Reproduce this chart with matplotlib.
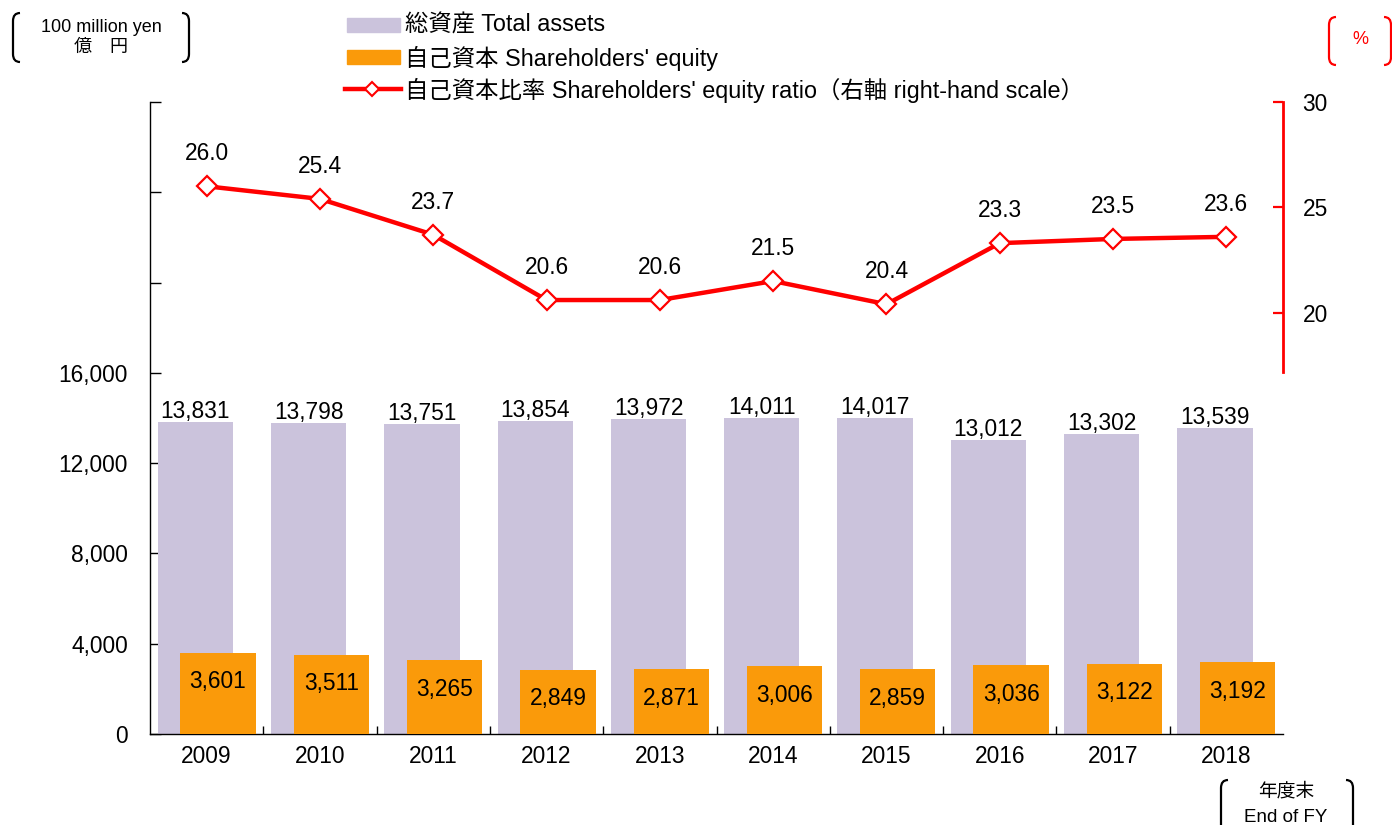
import matplotlib
matplotlib.use("Agg")
import matplotlib.pyplot as plt
from matplotlib.path import Path
from matplotlib.patches import PathPatch, Rectangle
from matplotlib.lines import Line2D
import numpy as np

plt.rcParams['font.family'] = ['Liberation Sans', 'Noto Sans CJK JP']

years = ['2009', '2010', '2011', '2012', '2013', '2014', '2015', '2016', '2017', '2018']
total_assets = [13831, 13798, 13751, 13854, 13972, 14011, 14017, 13012, 13302, 13539]
equity = [3601, 3511, 3265, 2849, 2871, 3006, 2859, 3036, 3122, 3192]
ratio = [26.0, 25.4, 23.7, 20.6, 20.6, 21.5, 20.4, 23.3, 23.5, 23.6]

left_ticks = [0, 4000, 8000, 12000, 16000, 20000, 24000, 28000]
left_labels = ['0', '4,000', '8,000', '12,000', '16,000', '', '', '']
right_ticks = [20, 25, 30]

C_TOTAL = '#CBC3DC'
C_EQ = '#FA9A0A'
C_LINE = '#FF0000'
FS = 16.4

W, H = 1392, 825
fig = plt.figure(figsize=(W / 100, H / 100), dpi=100)

def fx(px):
    return px / W

def fy(py):
    return 1 - py / H

ax = fig.add_axes([fx(150), fy(734), fx(1283) - fx(150), fy(102) - fy(734)])
x = np.arange(len(years))
bw = 0.665
ax.bar(x - 0.1, total_assets, width=bw, color=C_TOTAL, zorder=2)
ax.bar(x + 0.1, equity, width=bw, color=C_EQ, zorder=3)

for xi, v in zip(x, total_assets):
    ax.annotate(f'{v:,}', (xi - 0.1, v), xytext=(0, 7.5), textcoords='offset points',
                ha='center', va='center', fontsize=FS)
for xi, v in zip(x, equity):
    ax.annotate(f'{v:,}', (xi + 0.1, v), xytext=(0, -21), textcoords='offset points',
                ha='center', va='center', fontsize=FS, zorder=5)

ax.set_xlim(-0.5, len(years) - 0.5)
ax.set_ylim(0, 28000)
ax.set_yticks(left_ticks)
ax.set_yticklabels(left_labels)
ax.set_xticks(x)
ax.set_xticklabels(years)
ax.set_xticks(np.arange(0.5, len(years) - 1, 1), minor=True)
ax.tick_params(axis='x', which='major', length=0, labelsize=FS, pad=8)
ax.tick_params(axis='x', which='minor', length=6, direction='in', width=1)
ax.tick_params(axis='y', which='major', length=8, direction='in', width=1, labelsize=FS, pad=16)
for s in ['top', 'right']:
    ax.spines[s].set_visible(False)
for s in ['left', 'bottom']:
    ax.spines[s].set_linewidth(1.0)

ax2 = ax.twinx()
ax2.set_ylim(0, 30)
ax2.plot(x, ratio, color=C_LINE, lw=3.2, marker='D', markersize=10,
         markerfacecolor='white', markeredgecolor=C_LINE, markeredgewidth=1.6, zorder=4)
for xi, v in zip(x, ratio):
    ax2.annotate(f'{v:.1f}', (xi, v), xytext=(0, 23.5), textcoords='offset points',
                 ha='center', va='center', fontsize=FS)
ax2.set_yticks(right_ticks)
ax2.tick_params(axis='y', length=7, direction='in', width=1.6, color=C_LINE, labelsize=FS, pad=14)
for s in ['top', 'left', 'bottom']:
    ax2.spines[s].set_visible(False)
ax2.spines['right'].set_color(C_LINE)
ax2.spines['right'].set_linewidth(2.0)
ax2.spines['right'].set_bounds(17.2, 30)

# legend (manual)
fig.patches.append(Rectangle((fx(347), fy(32)), fx(400) - fx(347), fy(18) - fy(32),
                             transform=fig.transFigure, color=C_TOTAL))
fig.patches.append(Rectangle((fx(347), fy(64)), fx(400) - fx(347), fy(50) - fy(64),
                             transform=fig.transFigure, color=C_EQ))
fig.lines.append(Line2D([fx(345), fx(401)], [fy(89), fy(89)], transform=fig.transFigure,
                        color=C_LINE, lw=3.2, marker=None))
fig.lines.append(Line2D([fx(372)], [fy(89)], transform=fig.transFigure, color=C_LINE,
                        marker='D', markersize=7, markerfacecolor='white',
                        markeredgecolor=C_LINE, markeredgewidth=1.5))
LFS = 16.8
fig.text(fx(405), fy(25), '総資産 Total assets', fontsize=LFS, va='center', ha='left')
fig.text(fx(405), fy(58), '自己資本 Shareholders\' equity', fontsize=LFS, va='center', ha='left')
fig.text(fx(405), fy(90), '自己資本比率 Shareholders\' equity ratio（右軸 right-hand scale）',
         fontsize=LFS, va='center', ha='left')

def bracket(px, py0, py1, side, color='black', w=7, r=8):
    if side == 'left':
        verts = [(px + w, py0), (px, py0), (px, py0 + r), (px, py1 - r), (px, py1), (px + w, py1)]
    else:
        verts = [(px - w, py0), (px, py0), (px, py0 + r), (px, py1 - r), (px, py1), (px - w, py1)]
    verts = [(fx(a), fy(b)) for a, b in verts]
    codes = [Path.MOVETO, Path.CURVE3, Path.CURVE3, Path.LINETO, Path.CURVE3, Path.CURVE3]
    fig.patches.append(PathPatch(Path(verts, codes), transform=fig.transFigure,
                                 fill=False, edgecolor=color, lw=1.6))

# unit boxes
bracket(13, 13, 62, 'left')
bracket(189, 13, 62, 'right')
fig.text(fx(101), fy(27), '100 million yen', fontsize=13, ha='center', va='center')
fig.text(fx(101), fy(47), '億　円', fontsize=13, ha='center', va='center')

bracket(1329, 17, 65, 'left', C_LINE)
bracket(1391, 17, 65, 'right', C_LINE)
fig.text(fx(1360), fy(40), '%', fontsize=13, ha='center', va='center', color=C_LINE)

bracket(1221, 780, 835, 'left')
bracket(1353, 780, 835, 'right')
fig.text(fx(1286), fy(792), '年度末', fontsize=13.5, ha='center', va='center')
fig.text(fx(1286), fy(817), 'End of FY', fontsize=13.5, ha='center', va='center')

fig.savefig('out.png', dpi=100)
